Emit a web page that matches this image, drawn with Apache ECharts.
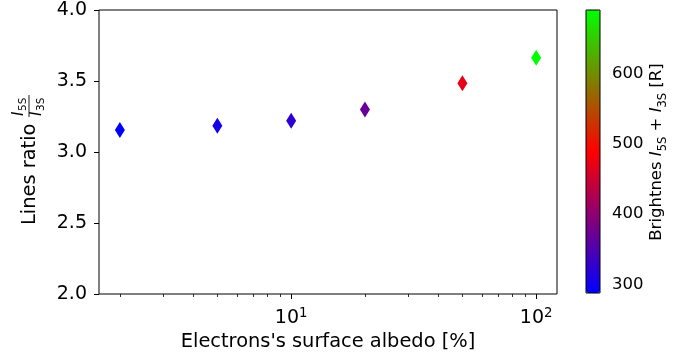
<!DOCTYPE html>
<html>
<head>
<meta charset="utf-8">
<script src="https://cdn.jsdelivr.net/npm/echarts@6/dist/echarts.min.js"></script>
<style>
  html, body { margin: 0; padding: 0; background: #fff; }
  #chart { width: 692px; height: 360px; }
</style>
</head>
<body>
<div id="chart"></div>
<script>
// Albedo scan: line ratio and total brightness for each surface albedo
const albedo = [2, 5, 10, 20, 50, 100];
const ratio = [3.155, 3.185, 3.22, 3.30, 3.484, 3.664];
const brightness = [287.6, 305, 322, 370, 470, 690];

// Axis ranges and tick positions
const xRange = [1.644, 121.6];
const yRange = [2.0, 4.0];
const yStep = 0.5;
const xMajorTicks = [10, 100];
const xMinorTicks = [2, 3, 4, 5, 6, 7, 8, 9, 20, 30, 40, 50, 60, 70, 80, 90];
const cbRange = [287.6, 690];
const cbTicks = [300, 400, 500, 600];

const FONT = 'DejaVu Sans';
const BLACK = '#000';

const chart = echarts.init(document.getElementById('chart'), null, { renderer: 'canvas' });

const points = albedo.map((a, i) => [a, ratio[i], brightness[i]]);

function supLabel(v) {
  const exp = Math.round(Math.log10(v));
  return '{b|10}{p|' + exp + '}';
}

const option = {
  animation: false,
  backgroundColor: '#fff',
  grid: [
    { left: 99, right: 135, top: 10, bottom: 66, outerBoundsMode: 'none', containLabel: false, show: true, borderColor: BLACK, borderWidth: 1, backgroundColor: 'transparent', z: 3 },
    { left: 586, width: 14, top: 10, height: 283, outerBoundsMode: 'none', containLabel: false, show: true, borderColor: BLACK, borderWidth: 1, backgroundColor: 'transparent', z: 10 }
  ],
  xAxis: [
    {
      gridIndex: 0, type: 'log', logBase: 10, min: xRange[0], max: xRange[1], position: 'bottom',
      axisLine: { show: false },
      splitLine: { show: false },
      axisTick: { show: true, customValues: xMajorTicks, length: 5, lineStyle: { color: BLACK, width: 1 } },
      axisLabel: {
        show: true, customValues: xMajorTicks, margin: 13, formatter: supLabel,
        rich: {
          b: { fontFamily: FONT, fontSize: 19, color: BLACK, verticalAlign: 'bottom' },
          p: { fontFamily: FONT, fontSize: 13.3, color: BLACK, verticalAlign: 'bottom', padding: [0, 0, 8, 0] }
        }
      },
      name: "Electrons's surface albedo [%]",
      nameLocation: 'middle', nameGap: 38,
      nameTextStyle: { fontFamily: FONT, fontSize: 19.4, color: BLACK }
    },
    {
      gridIndex: 0, type: 'log', logBase: 10, min: xRange[0], max: xRange[1], position: 'bottom',
      axisLine: { show: false },
      splitLine: { show: false },
      axisTick: { show: true, customValues: xMinorTicks, length: 3, lineStyle: { color: BLACK, width: 0.8 } },
      axisLabel: { show: false }
    },
    {
      gridIndex: 1, type: 'value', min: 0, max: 1, show: false
    }
  ],
  yAxis: [
    {
      gridIndex: 0, type: 'value', min: yRange[0], max: yRange[1], interval: yStep,
      axisLine: { show: false },
      splitLine: { show: false },
      axisTick: { show: true, length: 5, lineStyle: { color: BLACK, width: 1 } },
      axisLabel: {
        margin: 12, fontFamily: FONT, fontSize: 19, color: BLACK,
        formatter: v => v.toFixed(1)
      }
    },
    {
      gridIndex: 1, type: 'value', position: 'right', min: cbRange[0], max: cbRange[1],
      axisLine: { show: false },
      splitLine: { show: false },
      axisTick: { show: true, customValues: cbTicks, length: 5, lineStyle: { color: BLACK, width: 1 } },
      axisLabel: { show: true, customValues: cbTicks, margin: 12, fontFamily: FONT, fontSize: 16.5, color: BLACK }
    }
  ],
  visualMap: {
    type: 'continuous',
    min: cbRange[0], max: cbRange[1],
    dimension: 2, seriesIndex: 0,
    calculable: false, hoverLink: false,
    orient: 'vertical',
    left: 586, top: 10, padding: 0,
    itemWidth: 14, itemHeight: 283,
    text: null,
    inRange: { color: ['#0000ff', '#ff0000', '#00ff00'] }
  },
  series: [
    {
      type: 'scatter',
      xAxisIndex: 0, yAxisIndex: 0,
      symbol: 'diamond', symbolSize: [10, 16],
      itemStyle: { opacity: 1 },
      data: points,
      z: 2
    }
  ],
  graphic: [
    {
      type: 'group', x: 30, y: 225, rotation: Math.PI / 2,
      children: [
        { type: 'text', x: 0, y: 0, style: { text: 'Lines ratio', fontFamily: FONT, fontSize: 19.4, fill: BLACK, align: 'left', verticalAlign: 'middle' } },
        { type: 'text', x: 109, y: -3, style: { text: 'I', fontFamily: FONT, fontStyle: 'italic', fontSize: 15, fill: BLACK, align: 'left', verticalAlign: 'bottom' } },
        { type: 'text', x: 114, y: -1, style: { text: '5S', fontFamily: FONT, fontSize: 10.5, fill: BLACK, align: 'left', verticalAlign: 'bottom' } },
        { type: 'line', shape: { x1: 108, y1: -1, x2: 130, y2: -1 }, style: { stroke: BLACK, lineWidth: 0.9 } },
        { type: 'text', x: 109, y: 0, style: { text: 'I', fontFamily: FONT, fontStyle: 'italic', fontSize: 15, fill: BLACK, align: 'left', verticalAlign: 'top' } },
        { type: 'text', x: 114, y: 5.5, style: { text: '3S', fontFamily: FONT, fontSize: 10.5, fill: BLACK, align: 'left', verticalAlign: 'top' } }
      ]
    },
    {
      type: 'text', x: 659, y: 152, rotation: Math.PI / 2,
      style: {
        text: '{a|Brightnes }{i|I}{s|5S}{a| + }{i|I}{s|3S}{a| [R]}',
        align: 'center', verticalAlign: 'middle',
        rich: {
          a: { fontFamily: FONT, fontSize: 16.5, fill: BLACK, verticalAlign: 'bottom', padding: [0, 0, 4, 0] },
          i: { fontFamily: FONT, fontSize: 16.5, fontStyle: 'italic', fill: BLACK, verticalAlign: 'bottom', padding: [0, 0, 4, 0] },
          s: { fontFamily: FONT, fontSize: 11.5, fill: BLACK, verticalAlign: 'bottom' }
        }
      }
    }
  ]
};

chart.setOption(option);
</script>
</body>
</html>
